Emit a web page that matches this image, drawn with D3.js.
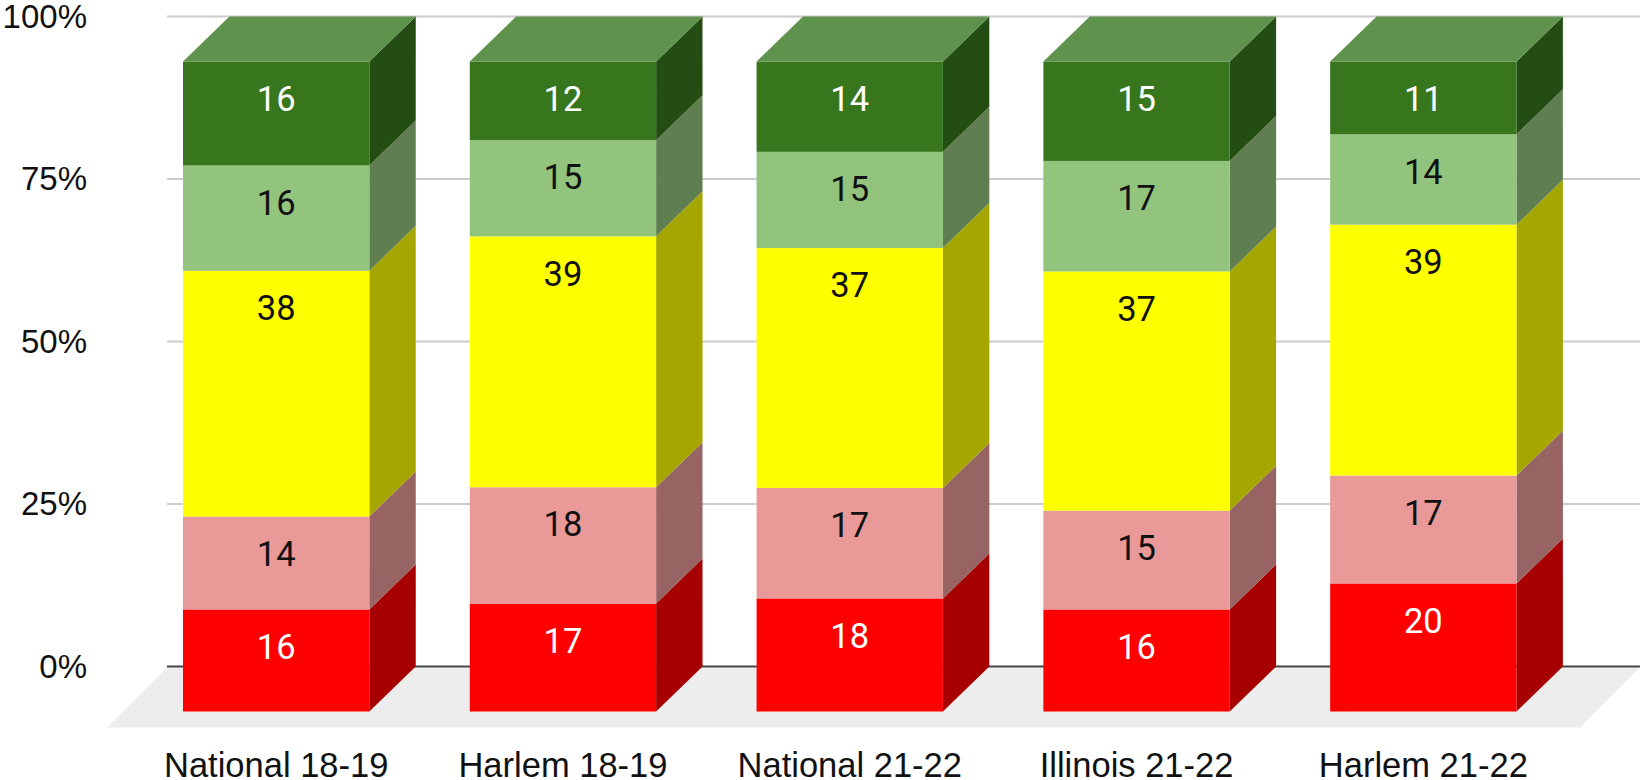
<!DOCTYPE html>
<html>
<head>
<meta charset="utf-8">
<script src="https://cdn.jsdelivr.net/npm/d3@7"></script>
<style>
  html, body { margin: 0; background: #fff; }
  svg { display: block; }
</style>
</head>
<body>
<div id="chart"></div>
<script>
const categories = ['National 18-19', 'Harlem 18-19', 'National 21-22', 'Illinois 21-22', 'Harlem 21-22']

// bar heights, bottom segment first
const redShares = [15.7, 16.6, 17.4, 15.7, 19.7]
const pinkShares = [14.3, 17.9, 17.0, 15.2, 16.6]
const yellowShares = [37.8, 38.6, 36.9, 36.8, 38.6]
const lightGreenShares = [16.2, 14.8, 14.8, 17.0, 13.9]
const darkGreenShares = [16.0, 12.1, 13.9, 15.3, 11.2]

// printed labels, they are not always the rounded height
const redLabels = [16, 17, 18, 16, 20]
const pinkLabels = [14, 18, 17, 15, 17]
const yellowLabels = [38, 39, 37, 37, 39]
const lightGreenLabels = [16, 15, 15, 17, 14]
const darkGreenLabels = [16, 12, 14, 15, 11]

const yTicks = [0, 0.25, 0.5, 0.75, 1]

const series = [
  { key: 'red', shares: redShares, labels: redLabels, front: '#ff0000', side: '#a60000', text: '#fff' },
  { key: 'pink', shares: pinkShares, labels: pinkLabels, front: '#ea9999', side: '#986363', text: '#111' },
  { key: 'yellow', shares: yellowShares, labels: yellowLabels, front: '#ffff00', side: '#a6a600', text: '#111' },
  { key: 'lightGreen', shares: lightGreenShares, labels: lightGreenLabels, front: '#93c47d', side: '#5f7f51', text: '#111' },
  { key: 'darkGreen', shares: darkGreenShares, labels: darkGreenLabels, front: '#38761d', side: '#244d13', text: '#fff' },
]

const w = 1640
const h = 780
const depthX = 46.4
const depthY = 45
const labelDrop = 36.8 // labels hang from the top of their segment
const topColor = '#5f924d'

const rows = categories.map((c, i) => {
  const row = { category: c }
  series.forEach(s => { row[s.key] = s.shares[i] })
  return row
})

const stacked = d3.stack()
  .keys(series.map(s => s.key))
  .offset(d3.stackOffsetExpand)(rows)

const x = d3.scaleBand()
  .domain(categories)
  .range([183, 1516.5])
  .paddingInner(0.3503)

// y is the back wall, the front faces sit depthY below it
const y = d3.scaleLinear().domain([0, 1]).range([666.5, 16.5])

const svg = d3.select('#chart')
  .append('svg')
  .attr('width', w)
  .attr('height', h)
  .style('font-family', '"Liberation Sans", Arial, sans-serif')

// Floor
const floorLeft = x.range()[0] - 76
svg.append('polygon')
  .attr('fill', '#ededed')
  .attr('points', [
    [floorLeft, y(0) + 61],
    [floorLeft + 60, y(0) + 1],
    [w, y(0) + 1],
    [w - 60, y(0) + 61],
  ].join(' '))

// Gridlines and y labels
const yAxis = svg.append('g')
  .attr('transform', 'translate(87,0)')
  .call(d3.axisLeft(y).tickValues(yTicks).tickFormat(d3.format('.0%')).tickSize(0).tickPadding(0))

yAxis.select('.domain').remove()
yAxis.selectAll('text')
  .style('font-family', 'inherit')
  .style('font-size', '33px')
  .attr('fill', '#111')

svg.append('g')
  .selectAll('line')
  .data(yTicks)
  .join('line')
  .attr('x1', floorLeft + 60)
  .attr('x2', w)
  .attr('y1', d => y(d))
  .attr('y2', d => y(d))
  .attr('stroke', d => d === 0 ? '#444' : '#ccc')
  .attr('stroke-width', 2)

// Bars
const layers = svg.append('g')
  .selectAll('g')
  .data(stacked)
  .join('g')

layers.selectAll('polygon')
  .data(d => d.map(p => ({ y0: p[0], y1: p[1], category: p.data.category })))
  .join('polygon')
  .attr('fill', function () { return series[d3.select(this.parentNode).datum().index].side })
  .attr('points', d => {
    const right = x(d.category) + x.bandwidth()
    return [
      [right, y(d.y0) + depthY],
      [right + depthX, y(d.y0)],
      [right + depthX, y(d.y1)],
      [right, y(d.y1) + depthY],
    ].join(' ')
  })

layers.selectAll('rect')
  .data(d => d.map(p => ({ y0: p[0], y1: p[1], category: p.data.category })))
  .join('rect')
  .attr('x', d => x(d.category))
  .attr('width', x.bandwidth())
  .attr('y', d => y(d.y1) + depthY)
  .attr('height', d => y(d.y0) - y(d.y1))
  .attr('fill', function () { return series[d3.select(this.parentNode).datum().index].front })

// Top of each column
svg.append('g')
  .selectAll('polygon')
  .data(categories)
  .join('polygon')
  .attr('fill', topColor)
  .attr('points', d => {
    const left = x(d)
    const right = left + x.bandwidth()
    return [
      [left, y(1) + depthY],
      [right, y(1) + depthY],
      [right + depthX, y(1)],
      [left + depthX, y(1)],
    ].join(' ')
  })

// Value labels
layers.selectAll('text')
  .data(d => d.map((p, i) => ({
    y1: p[1],
    category: p.data.category,
    label: series[d.index].labels[i],
    color: series[d.index].text,
  })))
  .join('text')
  .attr('x', d => x(d.category) + x.bandwidth() / 2)
  .attr('y', d => y(d.y1) + depthY + labelDrop)
  .attr('dy', '0.36em')
  .attr('text-anchor', 'middle')
  .attr('fill', d => d.color)
  .style('font-family', 'Roboto, sans-serif')
  .style('font-size', '34.5px')
  .text(d => d.label)

// Category labels
const xAxis = svg.append('g')
  .attr('transform', 'translate(0,777)')
  .call(d3.axisBottom(x).tickSize(0).tickPadding(0))

xAxis.select('.domain').remove()
xAxis.selectAll('text')
  .attr('dy', 0)
  .attr('y', 0)
  .style('font-family', 'inherit')
  .style('font-size', '34.5px')
  .attr('fill', '#111')
</script>
</body>
</html>
